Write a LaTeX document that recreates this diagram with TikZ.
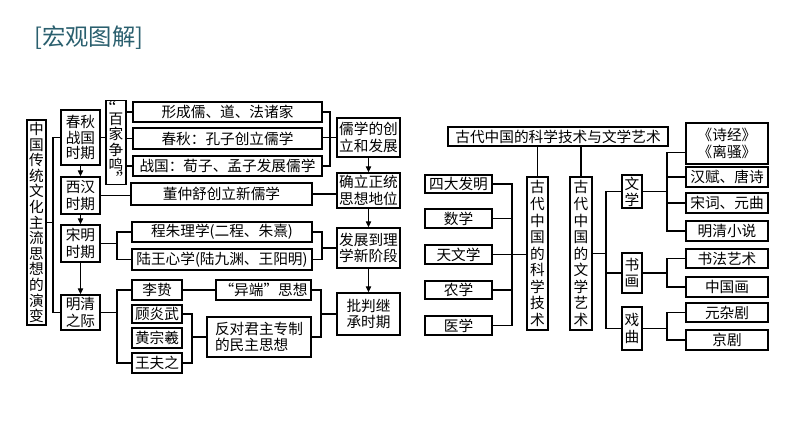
\documentclass[tikz,border=0pt]{standalone}
\usepackage{fontspec}
\setmainfont{Noto Sans CJK SC}
\newfontfamily\qf{Liberation Serif}
\usetikzlibrary{arrows.meta,calc}
\definecolor{titlec}{HTML}{2A5F6E}
\newcommand\fs[2]{\fontsize{#1}{#2}\selectfont}
\newcommand\bx[7][]{\node[bx,minimum width={(#5-#3)*0.75pt},minimum height={(#6-#4)*0.75pt},#1] (#2) at ({(#3+#5)/2},{(#4+#6)/2}) {#7};}
\begin{document}
\begin{tikzpicture}[x=0.75pt,y=-0.75pt,
  bx/.style={draw,line width=1.1pt,inner sep=0.5pt,align=center,font=\fs{11}{12.5}},
  ln/.style={line width=0.9pt},
  arr/.style={ln,-{Triangle[length=4.5pt,width=4pt]}}]
\useasboundingbox (0,0) rectangle (794,447);
\node[anchor=west,text=titlec,font=\fs{17.5}{20},inner sep=0] (title) at (34,38) {[宏观图解]};
% ---------- left diagram ----------
\bx[font=\fs{11}{11.7}]{main}{27}{120}{46}{325}{中\\国\\传\\统\\文\\化\\主\\流\\思\\想\\的\\演\\变}
\bx[font=\fs{11}{11.8}]{cq}{61}{110}{100}{165}{春秋\\战国\\时期}
\bx{xh}{61}{177}{100}{214}{西汉\\时期}
\bx{sm}{61}{225}{100}{262}{宋明\\时期}
\bx{mq}{61}{295}{100}{330}{明清\\之际}
\bx[font=\fs{11}{11.5}]{bj}{106}{102}{126}{183}{\makebox[1em][l]{\qf\fs{13}{13}“}\\[-2.5pt]百\\家\\争\\鸣\\[-1.5pt]\makebox[1em][r]{\qf\fs{13}{13}”}}
\bx{b1}{133}{102}{322}{122}{形成儒、道、法诸家}
\bx{b2}{133}{128}{322}{149}{春秋：孔子创立儒学}
\bx{b3}{133}{156}{322}{176}{战国：荀子、孟子发展儒学}
\bx{rx}{337}{118}{400}{157}{儒学的创\\立和发展}
\bx{qd}{337}{173}{400}{208}{确立正统\\思想地位}
\bx{dz}{131}{183}{312}{205}{董仲舒创立新儒学}
\bx{fz}{337}{228}{400}{268}{发展到理\\学新阶段}
\bx{cz}{132}{222}{312}{242}{程朱理学(二程、朱熹)}
\bx{lw}{132}{249}{312}{270}{陆王心学(陆九渊、王阳明)}
\bx{pp}{337}{293}{400}{335}{批判继\\承时期}
\bx{lz}{132}{280}{182}{300}{李贽}
\bx{gy}{132}{305}{182}{323}{顾炎武}
\bx{hz}{132}{328}{182}{348}{黄宗羲}
\bx{wf}{132}{353}{182}{373}{王夫之}
\bx{yd}{216}{280}{311}{300}{“异端”思想}
\bx[align=left]{fd}{207}{317}{311}{357}{反对君主专制\\的民主思想}
% connectors left
\coordinate (trk) at (53,0);
\draw[ln] (cq.west) -- (cq.west -| trk) -- (mq.west -| trk) -- (mq.west);
\draw[ln] (main.east) -- (main.east -| trk);
\draw[arr] (cq) -- (xh);
\draw[arr] (xh) -- (sm);
\draw[arr] (sm) -- (mq);
\draw[ln] (cq.east) -- (cq.east -| bj.west);
\draw[ln] (b1.west -| bj.east) -- (b1.west);
\draw[ln] (b2.west -| bj.east) -- (b2.west);
\draw[ln] (b3.west -| bj.east) -- (b3.west);
\coordinate (k1) at (330,0);
\draw[ln] (b1.east) -- (b1.east -| k1) -- (b3.east -| k1) -- (b3.east);
\draw[ln] (rx.west -| b2.east) -- (rx.west);
\draw[arr] (rx) -- (qd);
\draw[arr] (qd) -- (fz);
\draw[arr] (fz) -- (pp);
\draw[ln] (xh.east) -- (xh.east -| dz.west);
\draw[ln] (dz.east) -- (dz.east -| qd.west);
\coordinate (k2) at (117,0);
\draw[ln] (sm.east) -- (sm.east -| k2);
\draw[ln] (cz.west) -- (cz.west -| k2) -- (lw.west -| k2) -- (lw.west);
\coordinate (k3) at (322,0);
\draw[ln] (cz.east) -- (cz.east -| k3) -- (lw.east -| k3) -- (lw.east);
\draw[ln] (fz.west -| k3) -- (fz.west);
\draw[ln] (mq.east) -- (mq.east -| k2);
\draw[ln] (lz.west) -- (lz.west -| k2) -- (wf.west -| k2) -- (wf.west);
\draw[ln] (lz.east) -- (lz.east -| yd.west);
\coordinate (k4) at (192,0);
\draw[ln] (gy.east) -- (gy.east -| k4) -- (wf.east -| k4) -- (wf.east);
\draw[ln] (fd.west -| k4) -- (fd.west);
\coordinate (k5) at (321,0);
\draw[ln] (yd.east) -- (yd.east -| k5) -- (fd.east -| k5) -- (fd.east);
\draw[ln] (pp.west -| k5) -- (pp.west);
% ---------- right diagram ----------
\bx{top}{448}{127}{668}{146}{古代中国的科学技术与文学艺术}
\bx[font=\fs{11}{12.4}]{kx}{527}{177}{548}{330}{古\\代\\中\\国\\的\\科\\学\\技\\术}
\bx[font=\fs{11}{12.4}]{wy}{570}{177}{592}{330}{古\\代\\中\\国\\的\\文\\学\\艺\\术}
\bx{sd}{425}{175}{492}{193}{四大发明}
\bx{sx}{425}{209}{492}{228}{数学}
\bx{tw}{425}{245}{492}{264}{天文学}
\bx{nx}{425}{281}{492}{299}{农学}
\bx{yx}{425}{316}{492}{335}{医学}
\bx[font=\fs{11}{12}]{wx}{622}{175}{642}{208}{文\\学}
\bx{sh}{622}{253}{642}{293}{书\\画}
\bx{xq}{622}{307}{642}{350}{戏\\曲}
\bx{sj}{686}{123}{768}{164}{《诗经》\\《离骚》}
\bx{hf}{686}{167}{768}{187}{汉赋、唐诗}
\bx{sc}{686}{193}{768}{213}{宋词、元曲}
\bx{mx}{686}{221}{768}{241}{明清小说}
\bx{sf}{686}{249}{768}{268}{书法艺术}
\bx{zg}{686}{277}{768}{297}{中国画}
\bx{yz}{686}{303}{768}{322}{元杂剧}
\bx{jj}{686}{330}{768}{350}{京剧}
% connectors right
\draw[ln] (top.south -| kx.north) -- (kx.north);
\draw[ln] (top.south -| wy.north) -- (wy.north);
\coordinate (k6) at (512,0);
\draw[ln] (sd.east) -- (sd.east -| k6) -- (yx.east -| k6) -- (yx.east);
\draw[ln] (sx.east) -- (sx.east -| k6);
\draw[ln] (nx.east) -- (nx.east -| k6);
\draw[ln] (tw.east) -- (tw.east -| kx.west);
\coordinate (k7) at (606,0);
\draw[ln] (wy.east) -- (wy.east -| k7);
\draw[ln] (wx.west) -- (wx.west -| k7) -- (xq.west -| k7) -- (xq.west);
\draw[ln] (sh.west -| k7) -- (sh.west);
\coordinate (k8) at (667,0);
\coordinate (sjc) at ([yshift=-7pt]sj.west);
\draw[ln] (sjc) -- (sjc -| k8) -- (mx.west -| k8) -- (mx.west);
\draw[ln] (hf.west -| k8) -- (hf.west);
\draw[ln] (sc.west -| k8) -- (sc.west);
\draw[ln] (wx.east) -- (wx.east -| k8);
\draw[ln] (sh.east) -- (sh.east -| k8);
\draw[ln] (sf.west) -- (sf.west -| k8) -- (zg.west -| k8) -- (zg.west);
\draw[ln] (xq.east) -- (xq.east -| k8);
\draw[ln] (yz.west) -- (yz.west -| k8) -- (jj.west -| k8) -- (jj.west);
\end{tikzpicture}
\end{document}
